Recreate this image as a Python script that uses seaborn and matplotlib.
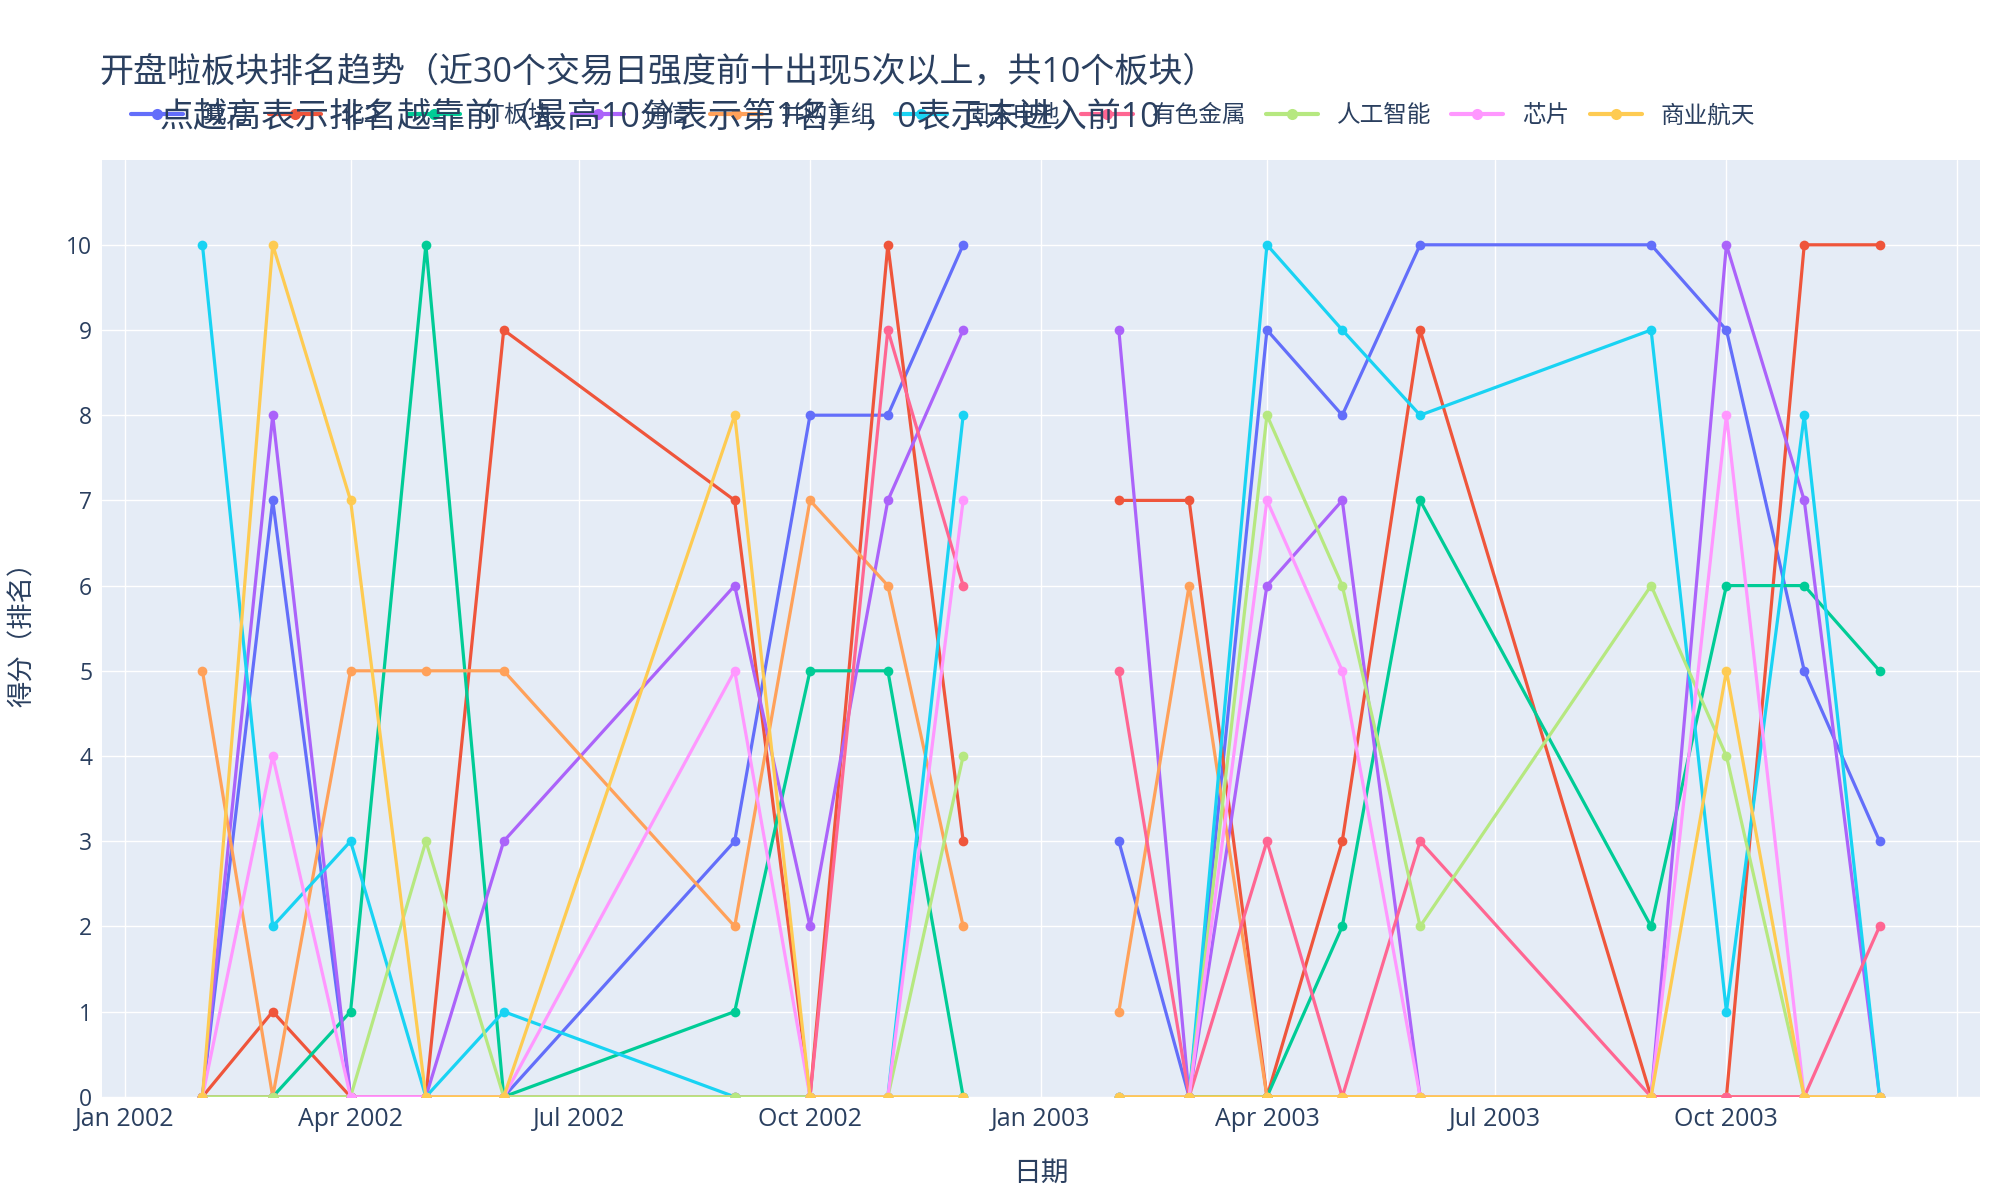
"""Sector ranking trend chart (plotly-like look) drawn with seaborn."""

import matplotlib

matplotlib.use("Agg")

import matplotlib.dates as mdates
import matplotlib.pyplot as plt
import matplotlib.ticker as mticker
import pandas as pd
import seaborn as sns

# monthly observation dates
dates = [
    "2002-02-01", "2002-03-01", "2002-04-01", "2002-05-01", "2002-06-01",
    "2002-09-01", "2002-10-01", "2002-11-01", "2002-12-01",
    "2003-02-01", "2003-03-01", "2003-04-01", "2003-05-01", "2003-06-01",
    "2003-09-01", "2003-10-01", "2003-11-01", "2003-12-01",
]

sectors = ["算力", "化工", "ST板块", "通信", "并购重组",
           "固态电池", "有色金属", "人工智能", "芯片", "商业航天"]

suanli = [0, 7, 0, 0, 0, 3, 8, 8, 10, 3, 0, 9, 8, 10, 10, 9, 5, 3]
huagong = [0, 1, 0, 0, 9, 7, 0, 10, 3, 7, 7, 0, 3, 9, 0, 0, 10, 10]
st_bankuai = [0, 0, 1, 10, 0, 1, 5, 5, 0, 0, 0, 0, 2, 7, 2, 6, 6, 5]
tongxin = [0, 8, 0, 0, 3, 6, 2, 7, 9, 9, 0, 6, 7, 0, 0, 10, 7, 0]
binggou = [5, 0, 5, 5, 5, 2, 7, 6, 2, 1, 6, 0, 0, 0, 0, 0, 0, 0]
gutai = [10, 2, 3, 0, 1, 0, 0, 0, 8, 0, 0, 10, 9, 8, 9, 1, 8, 0]
youse = [0, 0, 0, 0, 0, 0, 0, 9, 6, 5, 0, 3, 0, 3, 0, 0, 0, 2]
rengong = [0, 0, 0, 3, 0, 0, 0, 0, 4, 0, 0, 8, 6, 2, 6, 4, 0, 0]
xinpian = [0, 4, 0, 0, 0, 5, 0, 0, 7, 0, 0, 7, 5, 0, 0, 8, 0, 0]
hangtian = [0, 10, 7, 0, 0, 8, 0, 0, 0, 0, 0, 0, 0, 0, 0, 5, 0, 0]

series = [suanli, huagong, st_bankuai, tongxin, binggou,
          gutai, youse, rengong, xinpian, hangtian]

palette = ["#636EFA", "#EF553B", "#00CC96", "#AB63FA", "#FFA15A",
           "#19D3F3", "#FF6692", "#B6E880", "#FF97FF", "#FECB52"]

TEXT = "#2a3f5f"

rows = []
for name, values in zip(sectors, series):
    for d, v in zip(dates, values):
        rows.append({"date": d, "sector": name, "score": v})
df = pd.DataFrame(rows)
df["date"] = pd.to_datetime(df["date"])
# the two years are drawn as separate line pieces
df["segment"] = df["date"].dt.year

sns.set_theme(
    style="darkgrid",
    rc={
        "axes.facecolor": "#E5ECF6",
        "figure.facecolor": "white",
        "grid.color": "white",
        "grid.linewidth": 1.0,
    },
)
plt.rcParams["font.family"] = ["Open Sans", "Noto Sans CJK SC", "DejaVu Sans"]

fig = plt.figure(figsize=(20, 12), dpi=100)
ax = fig.add_axes([0.051, 0.086, 0.939, 0.781])

sns.lineplot(
    data=df,
    x="date",
    y="score",
    hue="sector",
    hue_order=sectors,
    palette=palette,
    units="segment",
    estimator=None,
    marker="o",
    markersize=7,
    markeredgewidth=0,
    linewidth=2.3,
    ax=ax,
)

ax.set_xlim(pd.Timestamp("2001-12-23"), pd.Timestamp("2004-01-10"))
ax.set_ylim(0, 11)
ax.set_yticks(range(0, 11))

last_date = df["date"].max()


def month_label(x, pos):
    # plotly drops the label that would run past the plot edge
    d = mdates.num2date(x).replace(tzinfo=None)
    return "" if d > last_date else d.strftime("%b %Y")


ax.xaxis.set_major_locator(mdates.MonthLocator(bymonth=[1, 4, 7, 10]))
ax.xaxis.set_major_formatter(mticker.FuncFormatter(month_label))
ax.tick_params(axis="x", labelsize=18, colors=TEXT, length=0, pad=7)
ax.tick_params(axis="y", labelsize=16.5, colors=TEXT, length=0, pad=7)
for spine in ax.spines.values():
    spine.set_visible(False)

ax.set_xlabel("日期", fontsize=20, color=TEXT, labelpad=20)
ax.set_ylabel("得分（排名）", fontsize=19, color=TEXT, labelpad=22)

handles, labels = ax.get_legend_handles_labels()
ax.get_legend().remove()
for h in handles:
    h.set_markersize(8)
    h.set_linewidth(3)
fig.legend(
    handles,
    labels,
    ncol=10,
    loc="center left",
    bbox_to_anchor=(0.055, 0.903),
    frameon=False,
    fontsize=17,
    handlelength=2.2,
    handletextpad=0.8,
    columnspacing=0.85,
    labelcolor=TEXT,
)

fig.text(0.0495, 0.94,
         "开盘啦板块排名趋势（近30个交易日强度前十出现5次以上，共10个板块）",
         fontsize=24.5, color=TEXT, va="center")
fig.text(0.08, 0.902,
         "点越高表示排名越靠前（最高10分表示第1名），0表示未进入前10",
         fontsize=24.5, color=TEXT, va="center", zorder=6)

fig.savefig("out.png", dpi=100)
